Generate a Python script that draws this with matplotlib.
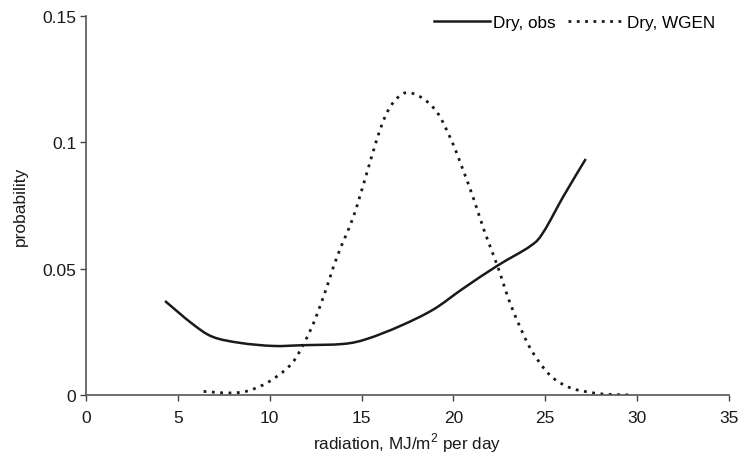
import matplotlib
matplotlib.use("Agg")
import matplotlib.pyplot as plt
from matplotlib.path import Path
from matplotlib.patches import PathPatch
from matplotlib.lines import Line2D
import numpy as np

plt.rcParams['font.family'] = ['Liberation Sans', 'DejaVu Sans']

obs_x = [4.3, 5.8, 6.9, 8.4, 10.2, 11.8, 14.0, 15.3, 17.1, 18.9, 20.5, 22.4, 24.2, 24.9, 26.0, 27.2]
obs_y = [0.0372, 0.0281, 0.023, 0.0206, 0.0194, 0.0197, 0.0202, 0.0222, 0.0273, 0.0338, 0.042, 0.0512, 0.059, 0.0645, 0.0788, 0.0934]

wgen_x = [6.4, 7.8, 8.8, 9.9, 10.9, 11.5, 12.3, 12.96, 13.66, 14.53, 15.19, 15.84, 16.3, 16.8, 17.4, 18.2, 19.1,
          19.9, 20.5, 21.1, 21.7, 22.4, 23.0, 23.6, 24.3, 25.3, 26.3, 27.3, 28.3, 29.8]
wgen_y = [0.0014, 0.0008, 0.0016, 0.005, 0.0103, 0.0156, 0.027, 0.0396, 0.0546, 0.0701, 0.0855, 0.1014, 0.1105,
          0.1164, 0.1196, 0.118, 0.112, 0.1006, 0.0895, 0.0776, 0.0645, 0.051, 0.038, 0.0273, 0.017,
          0.0075, 0.003, 0.0012, 0.0003, 0.0]

x_ticks = [0, 5, 10, 15, 20, 25, 30, 35]
y_ticks = [0, 0.05, 0.1, 0.15]
y_tick_labels = ["0", "0.05", "0.1", "0.15"]


def smooth_path(xs, ys):
    """Excel-style smoothed line: cubic Bezier segments through the data points."""
    p = np.column_stack([xs, ys]).astype(float)
    n = len(p)
    verts = [p[0]]
    codes = [Path.MOVETO]
    for i in range(n - 1):
        p0 = p[i - 1] if i > 0 else p[i]
        p1 = p[i]
        p2 = p[i + 1]
        p3 = p[i + 2] if i + 2 < n else p[i + 1]
        c1 = p1 + (p2 - p0) / 6.0
        c2 = p2 - (p3 - p1) / 6.0
        verts += [c1, c2, p2]
        codes += [Path.CURVE4] * 3
    return Path(np.array(verts), codes)


fig = plt.figure(figsize=(7.39, 4.64), dpi=100)
ax = fig.add_axes([0.1164, 0.1466, 0.8701, 0.8168])

line_color = '#1a1a1a'
obs_style = dict(color=line_color, lw=1.8)
wgen_style = dict(color=line_color, lw=2.0, linestyle=(0, (1, 2)))

ax.add_patch(PathPatch(smooth_path(obs_x, obs_y), facecolor='none', edgecolor=line_color,
                       lw=obs_style['lw'], capstyle='butt', joinstyle='round'))
ax.add_patch(PathPatch(smooth_path(wgen_x, wgen_y), facecolor='none', edgecolor=line_color,
                       lw=wgen_style['lw'], linestyle=wgen_style['linestyle']))

ax.set_xlim(0, 35)
ax.set_ylim(0, 0.15)
ax.set_xticks(x_ticks)
ax.set_xticklabels([str(t) for t in x_ticks])
ax.set_yticks(y_ticks)
ax.set_yticklabels(y_tick_labels)
ax.tick_params(direction='out', length=4, width=1, colors='#444444', labelcolor='#1a1a1a', labelsize=12.5)
ax.tick_params(axis='x', pad=7)
ax.tick_params(axis='y', pad=3)

for s in ['top', 'right']:
    ax.spines[s].set_visible(False)
for s in ['left', 'bottom']:
    ax.spines[s].set_color('#555555')
    ax.spines[s].set_linewidth(1.2)

ax.set_xlabel(r'radiation, MJ/m$^{\mathregular{2}}$ per day', fontsize=12.3, color='#1a1a1a', labelpad=4)
ax.set_ylabel('probability', fontsize=12.5, color='#1a1a1a', labelpad=10)

handles = [Line2D([], [], **obs_style), Line2D([], [], **wgen_style)]
ax.legend(handles, ['Dry, obs', 'Dry, WGEN'], loc='upper right', bbox_to_anchor=(0.995, 1.03), ncol=2,
          frameon=False, fontsize=12.3, handlelength=3.3, handletextpad=0.15, columnspacing=0.75,
          borderaxespad=0.2)

fig.savefig('out.png', dpi=100)
